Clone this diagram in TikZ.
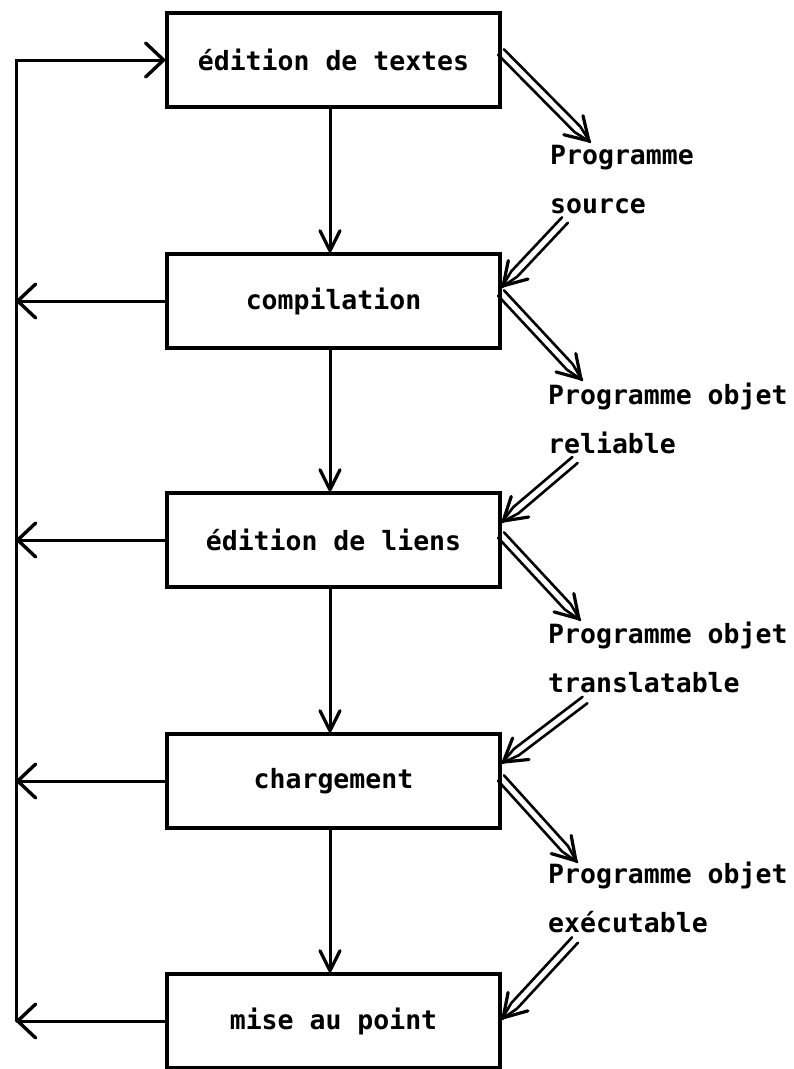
\documentclass[tikz,border=0pt]{standalone}
\usepackage{fontspec}
\newfontfamily\printerfont{DejaVu Sans Mono}
\usetikzlibrary{arrows.meta,calc}

% a "double" arrow: two parallel strokes that close onto one open head
\newcommand\doublearrow[2]{%
  \coordinate (dm) at ($(#2)!18pt!(#1)$);
  \draw[dshaft] ($(#1)!4pt!90:(#2)$) -- ($(dm)!4pt!90:(#2)$) -- (#2);
  \draw[dshaft] ($(#1)!4pt!-90:(#2)$) -- ($(dm)!4pt!-90:(#2)$) -- (#2);
  \draw[dshaft,dtip] ($(#2)!4pt!(#1)$) -- (#2);}

\begin{document}
\begin{tikzpicture}[x=1pt,y=-1pt,
  stage/.style={draw, line width=3.4pt, minimum width=333pt, minimum height=94pt,
    inner sep=0pt, font=\printerfont\bfseries\fontsize{26.5}{32}\selectfont},
  flow/.style={line width=3pt, line cap=round,
    -{Straight Barb[length=20pt,width=20pt,line width=3.2pt,round]}},
  back/.style={line width=3pt, line cap=round,
    -{Straight Barb[length=18pt,width=34pt,line width=3.4pt,round]}},
  dshaft/.style={line width=2.6pt, line cap=round, line join=round},
  dtip/.style={-{Straight Barb[length=22pt,width=27pt,line width=3.2pt,round]}},
  prodlabel/.style={anchor=base west, inner sep=0pt, align=left,
    font=\printerfont\bfseries\fontsize{26.5}{49}\selectfont}]

\useasboundingbox (0,0) rectangle (794,1069);

% the five stages of program development
\node[stage] (b1) at (333.5,60)   {édition de textes};
\node[stage] (b2) at (333.5,301)  {compilation};
\node[stage] (b3) at (333.5,540)  {édition de liens};
\node[stage] (b4) at (333.5,781)  {chargement};
\node[stage] (b5) at (333.5,1021) {mise au point};

% main downward flow
\foreach \a/\b in {b1/b2,b2/b3,b3/b4,b4/b5}
  \draw[flow] ([xshift=-3.5pt]\a.south) -- ([xshift=-3.5pt]\b.north);

% return rail on the left, back to text editing
\coordinate (rail) at (16,1021);
\draw[back] (rail) |- (b1.west);
\foreach \s in {b2,b3,b4}
  \draw[back] (\s.west) -- (\s.west -| rail);
\draw[back] (b5.west) -- (rail);

% intermediate products (anchored on the baseline of their last line)
\node[prodlabel] (l1) at (550,213) {Programme\\source};
\node[prodlabel] (l2) at (548,453) {Programme objet\\reliable};
\node[prodlabel] (l3) at (548,692) {Programme objet\\translatable};
\node[prodlabel] (l4) at (548,932) {Programme objet\\exécutable};

% produced by a stage
\coordinate (o1s) at (501,52);  \coordinate (o1t) at (590,142);
\coordinate (o2s) at (501,293); \coordinate (o2t) at (582,380);
\coordinate (o3s) at (501,535); \coordinate (o3t) at (580,620);
\coordinate (o4s) at (501,778); \coordinate (o4t) at (577,862);
% consumed by the next stage
\coordinate (i2s) at (565,220); \coordinate (i2t) at (502,287);
\coordinate (i3s) at (575,460); \coordinate (i3t) at (502,522);
\coordinate (i4s) at (585,700); \coordinate (i4t) at (502,763);
\coordinate (i5s) at (575,940); \coordinate (i5t) at (502,1019);

\doublearrow{o1s}{o1t}
\doublearrow{o2s}{o2t}
\doublearrow{o3s}{o3t}
\doublearrow{o4s}{o4t}
\doublearrow{i2s}{i2t}
\doublearrow{i3s}{i3t}
\doublearrow{i4s}{i4t}
\doublearrow{i5s}{i5t}

\end{tikzpicture}
\end{document}
